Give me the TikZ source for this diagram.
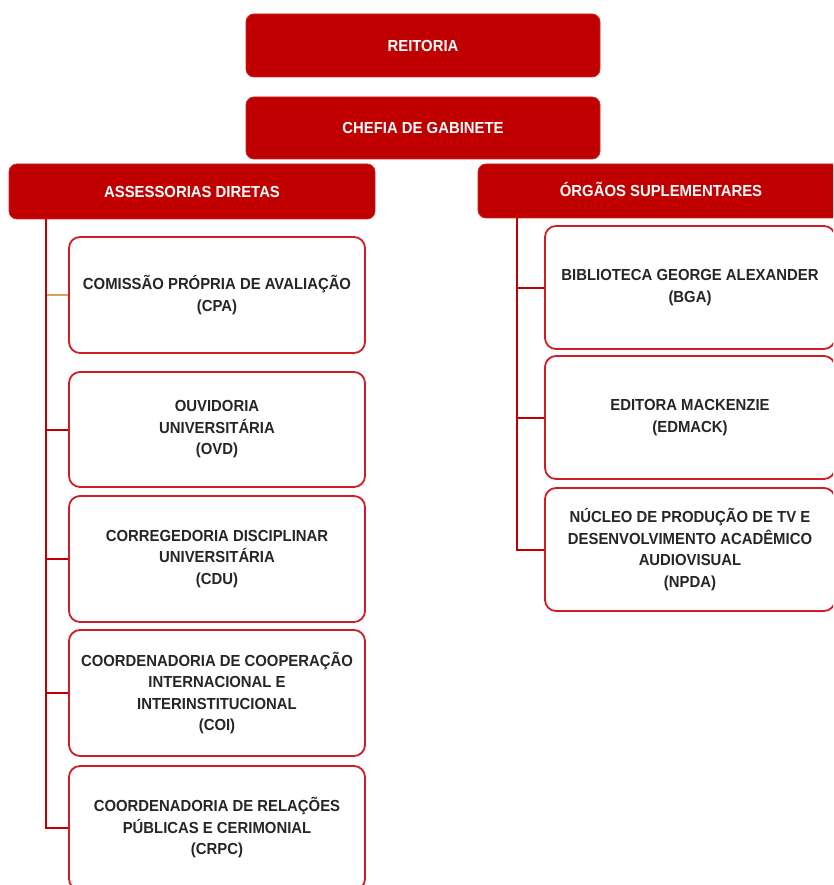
\documentclass[tikz,border=0pt]{standalone}
\usepackage{fontspec}
\setmainfont[FakeStretch=0.93]{Liberation Sans}
\definecolor{hdr}{HTML}{C00000}
\definecolor{bord}{HTML}{D01C24}
\definecolor{cpaline}{HTML}{D9A066}
\begin{document}
\begin{tikzpicture}[x=1pt,y=-1pt,
  hdrbox/.style={draw=hdr!85!white,line width=0.8pt,fill=hdr,rounded corners=8pt,inner sep=0pt,
    font=\fontsize{16}{20}\selectfont\bfseries,text=white,align=center},
  unitbox/.style={draw=bord,line width=1.8pt,fill=white,rounded corners=11pt,inner sep=0pt,
    font=\fontsize{16}{21.5}\selectfont\bfseries,text=black!85,align=center},
  link/.style={draw=hdr,line width=2pt}]
\useasboundingbox (0,0) rectangle (833,885);
\clip (0,0) rectangle (833,885);
% headers
\node[hdrbox,minimum width=354pt,minimum height=63pt] (rei) at (423,45.5) {REITORIA};
\node[hdrbox,minimum width=354pt,minimum height=62pt] (chefia) at (423,128) {CHEFIA DE GABINETE};
\node[hdrbox,minimum width=366pt,minimum height=55pt] (assess) at (192,191.5) {ASSESSORIAS DIRETAS};
\node[hdrbox,minimum width=380pt,minimum height=54pt] (orgaos) at (668,191) {};
\node[font=\fontsize{16}{20}\selectfont\bfseries,text=white] (orgtxt) at (661,189) {ÓRGÃOS SUPLEMENTARES};
% left column
\node[unitbox,minimum width=296pt,minimum height=116pt] (cpa) at (217,295) {COMISSÃO PRÓPRIA DE AVALIAÇÃO\\(CPA)};
\node[unitbox,minimum width=296pt,minimum height=115pt] (ovd) at (217,429.5) {OUVIDORIA\\UNIVERSITÁRIA\\(OVD)};
\node[unitbox,minimum width=296pt,minimum height=126pt] (cdu) at (217,559) {CORREGEDORIA DISCIPLINAR\\UNIVERSITÁRIA\\(CDU)};
\node[unitbox,minimum width=296pt,minimum height=126pt] (coi) at (217,693) {COORDENADORIA DE COOPERAÇÃO\\INTERNACIONAL E\\INTERINSTITUCIONAL\\(COI)};
\node[unitbox,minimum width=296pt,minimum height=124pt] (crpc) at (217,828) {COORDENADORIA DE RELAÇÕES\\PÚBLICAS E CERIMONIAL\\(CRPC)};
% right column
\node[unitbox,minimum width=290pt,minimum height=123pt] (bga) at (690,287.5) {BIBLIOTECA GEORGE ALEXANDER\\(BGA)};
\node[unitbox,minimum width=290pt,minimum height=123pt] (edm) at (690,417.5) {EDITORA MACKENZIE\\(EDMACK)};
\node[unitbox,minimum width=290pt,minimum height=123pt] (npda) at (690,549.5) {NÚCLEO DE PRODUÇÃO DE TV E\\DESENVOLVIMENTO ACADÊMICO\\AUDIOVISUAL\\(NPDA)};
% connectors left
\coordinate (ltop) at ([xshift=37pt]assess.south west);
\draw[draw=cpaline,line width=1.4pt] (ltop |- cpa.west) -- (cpa.west);
\draw[link] (ltop) |- (ovd.west);
\draw[link] (ltop) |- (cdu.west);
\draw[link] (ltop) |- (coi.west);
\draw[link] (ltop) |- (crpc.west);
% connectors right
\coordinate (rtop) at ([xshift=39pt]orgaos.south west);
\draw[link] (rtop) |- (bga.west);
\draw[link] (rtop) |- (edm.west);
\draw[link] (rtop) |- (npda.west);
\end{tikzpicture}
\end{document}
